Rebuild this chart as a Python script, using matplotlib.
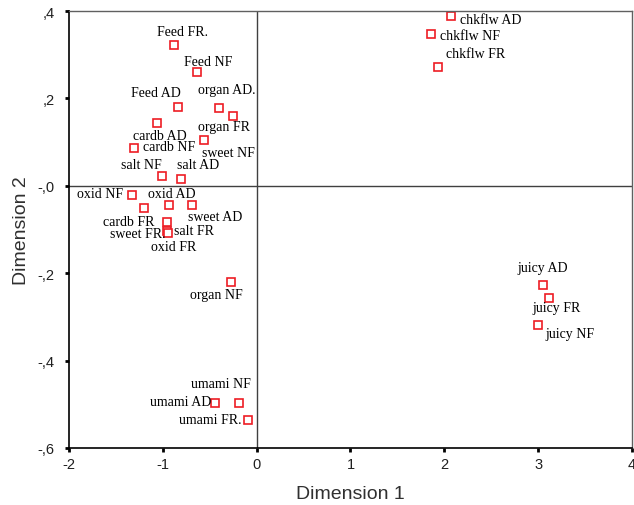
import matplotlib
matplotlib.use("Agg")
import matplotlib.pyplot as plt

labels = ["Feed FR.", "Feed NF", "Feed AD", "organ AD.", "organ FR", "cardb AD",
          "sweet NF", "cardb NF", "salt NF", "salt AD", "oxid NF", "cardb FR",
          "oxid AD", "sweet AD", "sweet FR.", "salt FR", "oxid FR", "organ NF",
          "umami NF", "umami AD", "umami FR.", "chkflw AD", "chkflw NF", "chkflw FR",
          "juicy AD", "juicy FR", "juicy NF"]
dim1 = [-0.88, -0.64, -0.84, -0.40, -0.25, -1.06,
        -0.56, -1.31, -1.01, -0.81, -1.33, -1.20,
        -0.93, -0.69, -0.96, -0.96, -0.95, -0.27,
        -0.19, -0.44, -0.09, 2.07, 1.86, 1.93,
        3.05, 3.12, 3.00]
dim2 = [0.323, 0.260, 0.180, 0.177, 0.160, 0.144,
        0.105, 0.086, 0.023, 0.016, -0.021, -0.051,
        -0.044, -0.044, -0.082, -0.103, -0.107, -0.219,
        -0.497, -0.497, -0.536, 0.389, 0.347, 0.271,
        -0.226, -0.257, -0.319]
xticks = [-2, -1, 0, 1, 2, 3, 4]
yticks = [0.4, 0.2, 0.0, -0.2, -0.4, -0.6]
yticklabels = [",4", ",2", "-,0", "-,2", "-,4", "-,6"]

# label offsets in pixels (layout only)
offsets = [(8.7, 13.4), (12, 10.6), (-22.3, 14.7), (7.7, 18.6), (-9.7, -11), (2.3, -12.3),
           (24.7, -12.6), (35.3, 2), (-20.7, 11), (17.4, 14.3), (-32.3, 1.7), (-15.7, -13.6),
           (2, 12), (23.3, -11.7), (-28.4, -11.6), (27.7, 0.3), (6, -13.5), (-15, -13.4),
           (-17.7, 19), (-34.5, 1.3), (-38, 1), (39.8, -4), (39, -1), (38.1, 14),
           (0, 16.7), (6.7, -9), (32.3, -8)]

fig = plt.figure(figsize=(6.34, 5.06), dpi=100)
ax = fig.add_axes([69/634, 1-449/506, (632-69)/634, (449-12)/506])
ax.set_xlim(-2, 4)
ax.set_ylim(-0.6, 0.4)

ax.axhline(0, color="#404040", lw=1.0, zorder=1)
ax.axvline(0, color="#404040", lw=1.0, zorder=1)

ax.plot(dim1, dim2, linestyle="none", marker="s", markersize=5.2,
        markerfacecolor="white", markeredgecolor="#ee1c24", markeredgewidth=1.2, zorder=2)

for lab, x, y, (dx, dy) in zip(labels, dim1, dim2, offsets):
    ax.annotate(lab, (x, y), xytext=(dx, dy), textcoords="offset pixels",
                ha="center", va="center", fontsize=10, family="Liberation Serif",
                color="black", zorder=3)

ax.set_xticks(xticks)
ax.set_xticklabels([str(t) for t in xticks])
ax.set_yticks(yticks)
ax.set_yticklabels(yticklabels)
ax.tick_params(direction="out", length=3, width=2, labelsize=10.5, colors="black")
ax.tick_params(axis="y", pad=7.5)
ax.tick_params(axis="x", pad=3.5)
for lab in ax.get_xticklabels() + ax.get_yticklabels():
    lab.set_family("Liberation Sans")
    lab.set_color("#202020")

for side in ["left", "bottom"]:
    ax.spines[side].set_color("black")
    ax.spines[side].set_linewidth(1.2)
for side in ["top", "right"]:
    ax.spines[side].set_color("#606060")
    ax.spines[side].set_linewidth(1.0)

ax.set_xlabel("Dimension 1", fontsize=14, family="Liberation Sans", color="#303030", labelpad=10)
ax.set_ylabel("Dimension 2", fontsize=14, family="Liberation Sans", color="#303030", labelpad=5)

fig.savefig("out.png", dpi=100)
